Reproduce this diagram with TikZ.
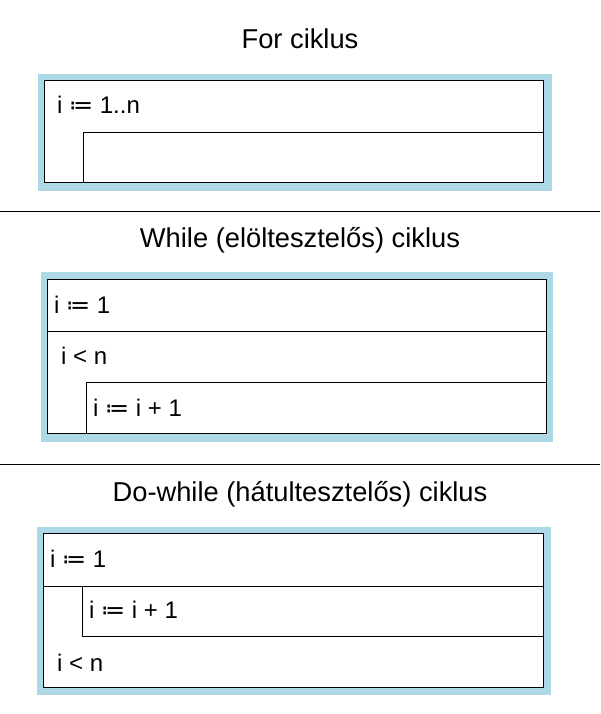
\documentclass[tikz,border=0pt]{standalone}
\usepackage{fontspec}
\setmainfont{Liberation Sans}
\newfontfamily\symfont{DejaVu Sans}
\usepackage{xcolor}
\usetikzlibrary{positioning}
\definecolor{lightblue}{HTML}{ADD8E6}
\tikzset{%
  frame/.style={fill=lightblue},
  diagram/.style={draw,fill=white,line width=1pt},
  rule/.style={line width=1pt},
  title/.style={anchor=base,inner sep=0pt,font=\fontsize{27.3}{32}\selectfont},
  stmt/.style={anchor=base west,inner sep=0pt,font=\fontsize{24}{29}\selectfont},
}
\newcommand{\assign}{{\symfont ≔}}

\begin{document}
\begin{tikzpicture}[x=1pt,y=-1pt]
      \useasboundingbox (0,0) rectangle (600,714);

      % for
      \node[title] (title_for) at (300,49) {For ciklus};
      \fill[frame] (38,74) rectangle (552,191);
      \draw[diagram] (44.5,80.5) rectangle (543.5,183);
      \draw[rule] (83.5,183) |- (543.5,133);
      \node[stmt] (for_head) at (57,114) {i \assign{} 1..n};

      \draw (0,211) -- (600,211);

      % while
      \node[title] (title_while) at (300,247) {While (elöltesztelős) ciklus};
      \fill[frame] (41,272) rectangle (553,442);
      \draw[diagram] (47.5,279) rectangle (546,433.5);
      \draw[rule] (47.5,331) -- (546,331);
      \draw[rule] (86.5,433.5) |- (546,382);
      \node[stmt] (while_init) at (54,313) {i \assign{} 1};
      \node[stmt] (while_cond) at (61,364) {i < n};
      \node[stmt] (while_body) at (93,416) {i \assign{} i + 1};

      \draw (0,464) -- (600,464);

      % do-while
      \node[title] (title_dowhile) at (300,501) {Do-while (hátultesztelős) ciklus};
      \fill[frame] (37,527) rectangle (551,695);
      \draw[diagram] (43.5,533.5) rectangle (543,687.5);
      \draw[rule] (43.5,586) -- (543,586);
      \draw[rule] (82.5,586) |- (543,636);
      \node[stmt] (dowhile_init) at (50,567) {i \assign{} 1};
      \node[stmt] (dowhile_body) at (89,618) {i \assign{} i + 1};
      \node[stmt] (dowhile_cond) at (57,671) {i < n};
    \end{tikzpicture}
\end{document}
